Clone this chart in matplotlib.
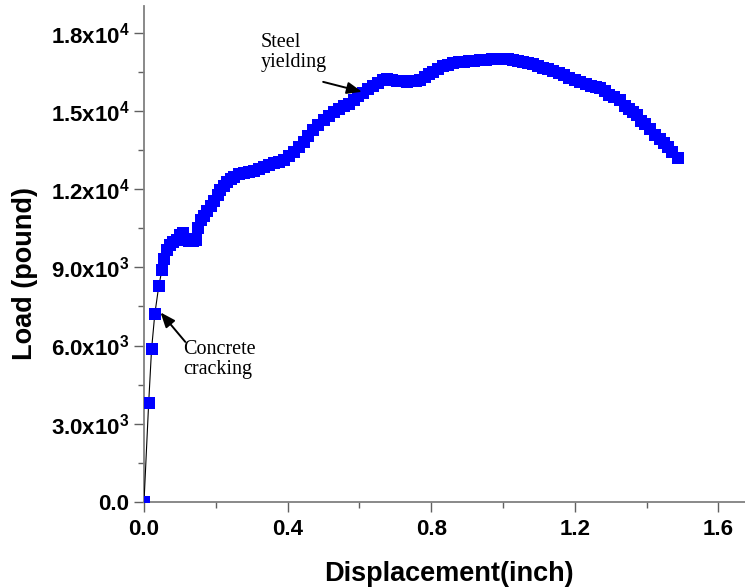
import numpy as np
import matplotlib
matplotlib.use("Agg")
import matplotlib.pyplot as plt
from matplotlib.ticker import MultipleLocator

# === DATOS ===
disp = [0.000, 0.013, 0.021, 0.030, 0.041, 0.050, 0.057, 0.064, 0.072, 0.081,
        0.091, 0.100, 0.108, 0.116, 0.126, 0.136, 0.144, 0.149, 0.158, 0.167,
        0.176, 0.186, 0.196, 0.205, 0.213, 0.222, 0.231, 0.241, 0.252, 0.265,
        0.278, 0.292, 0.305, 0.319, 0.333, 0.347, 0.361, 0.375, 0.389, 0.403,
        0.417, 0.431, 0.445, 0.458, 0.472, 0.486, 0.500, 0.514, 0.528, 0.542,
        0.556, 0.570, 0.584, 0.597, 0.611, 0.625, 0.639, 0.652, 0.665, 0.678,
        0.692, 0.705, 0.719, 0.732, 0.745, 0.758, 0.770, 0.783, 0.795, 0.806,
        0.820, 0.834, 0.848, 0.862, 0.876, 0.890, 0.905, 0.920, 0.937, 0.952,
        0.968, 0.984, 1.000, 1.014, 1.028, 1.042, 1.056, 1.070, 1.084, 1.098,
        1.112, 1.126, 1.140, 1.155, 1.170, 1.185, 1.200, 1.215, 1.230, 1.245,
        1.258, 1.270, 1.283, 1.296, 1.310, 1.326, 1.340, 1.352, 1.363, 1.374,
        1.385, 1.396, 1.410, 1.424, 1.436, 1.447, 1.460, 1.472, 1.486]
load = [0, 3800, 5850, 7200, 8270, 8900, 9300, 9650, 9850, 9980,
        10060, 10250, 10300, 10100, 9990, 10000, 10030, 10500, 10800, 10960,
        11150, 11350, 11560, 11780, 11960, 12130, 12280, 12400, 12480, 12560,
        12600, 12640, 12680, 12780, 12860, 12930, 12990, 13040, 13110, 13250,
        13430, 13620, 13820, 14040, 14260, 14450, 14650, 14800, 14960, 15080,
        15180, 15250, 15400, 15560, 15680, 15820, 15950, 16080, 16180, 16230,
        16200, 16150, 16130, 16120, 16130, 16150, 16190, 16280, 16400, 16500,
        16620, 16700, 16770, 16830, 16870, 16890, 16900, 16920, 16930, 16950,
        16970, 16990, 16990, 16970, 16950, 16900, 16870, 16840, 16800, 16730,
        16660, 16600, 16540, 16460, 16370, 16270, 16180, 16110, 16030, 15960,
        15920, 15880, 15760, 15620, 15540, 15430, 15200, 15060, 14950, 14830,
        14620, 14480, 14320, 14080, 13920, 13780, 13600, 13420, 13200]

x_ticks = [0.0, 0.4, 0.8, 1.2, 1.6]
x_tick_labels = ["0.0", "0.4", "0.8", "1.2", "1.6"]
y_ticks = [0, 3000, 6000, 9000, 12000, 15000, 18000]
y_tick_labels = ["0.0", "3.0x10$^{3}$", "6.0x10$^{3}$", "9.0x10$^{3}$",
                 "1.2x10$^{4}$", "1.5x10$^{4}$", "1.8x10$^{4}$"]

# === ESTILO ===
plt.rcParams["font.family"] = ["Liberation Sans", "DejaVu Sans"]
plt.rcParams["mathtext.fontset"] = "custom"
plt.rcParams["mathtext.rm"] = "Liberation Sans:bold"
plt.rcParams["mathtext.it"] = "Liberation Sans:bold"
plt.rcParams["mathtext.bf"] = "Liberation Sans:bold"

fig = plt.figure(figsize=(7.45, 5.87), dpi=100)
ax = fig.add_axes([0.1933, 0.1448, 0.8067, 0.845])

ax.plot(disp, load, color="black", lw=0.8, marker="s", markersize=8.2,
        markerfacecolor="#0000ff", markeredgewidth=0, zorder=3)

ax.set_xlim(0, 1.674)
ax.set_ylim(0, 19020)

ax.set_xticks(x_ticks)
ax.set_xticklabels(x_tick_labels)
ax.set_yticks(y_ticks)
ax.set_yticklabels(y_tick_labels)
ax.xaxis.set_minor_locator(MultipleLocator(0.2))
ax.yaxis.set_minor_locator(MultipleLocator(1500))

for side in ["top", "right"]:
    ax.spines[side].set_visible(False)
for side in ["left", "bottom"]:
    ax.spines[side].set_color("#808080")
    ax.spines[side].set_linewidth(1.3)

ax.tick_params(which="major", direction="out", length=7.5, width=1.0,
               color="#606060", labelsize=16, pad=3)
ax.tick_params(which="minor", direction="out", length=4, width=1.0,
               color="#606060")
ax.tick_params(axis="x", which="major", pad=5)
for lbl in ax.get_xticklabels() + ax.get_yticklabels():
    lbl.set_fontweight("bold")

ax.set_xlabel("Displacement(inch)", fontsize=19.5, fontweight="bold")
ax.set_ylabel("Load (pound)", fontsize=19.5, fontweight="bold")
ax.xaxis.set_label_coords(0.5075, -0.118)
ax.yaxis.set_label_coords(-0.176, 0.46)

# === ANOTACIONES ===
arrow = dict(arrowstyle="-|>,head_length=0.45,head_width=0.18",
             color="black", lw=1.4, mutation_scale=20, shrinkA=0, shrinkB=0)
ax.annotate("", xy=(0.046, 7270), xytext=(0.115, 6140), arrowprops=arrow)
ax.annotate("", xy=(0.607, 15730), xytext=(0.499, 16110), arrowprops=arrow)

ax.text(0.11, 6205, "Concrete\ncracking", fontsize=14.5, family="Liberation Serif",
        ha="left", va="top", linespacing=1.05)
ax.text(0.324, 17980, "Steel\nyielding", fontsize=14.5, family="Liberation Serif",
        ha="left", va="top", linespacing=1.05)

plt.savefig("out.png", dpi=100)
plt.close()
